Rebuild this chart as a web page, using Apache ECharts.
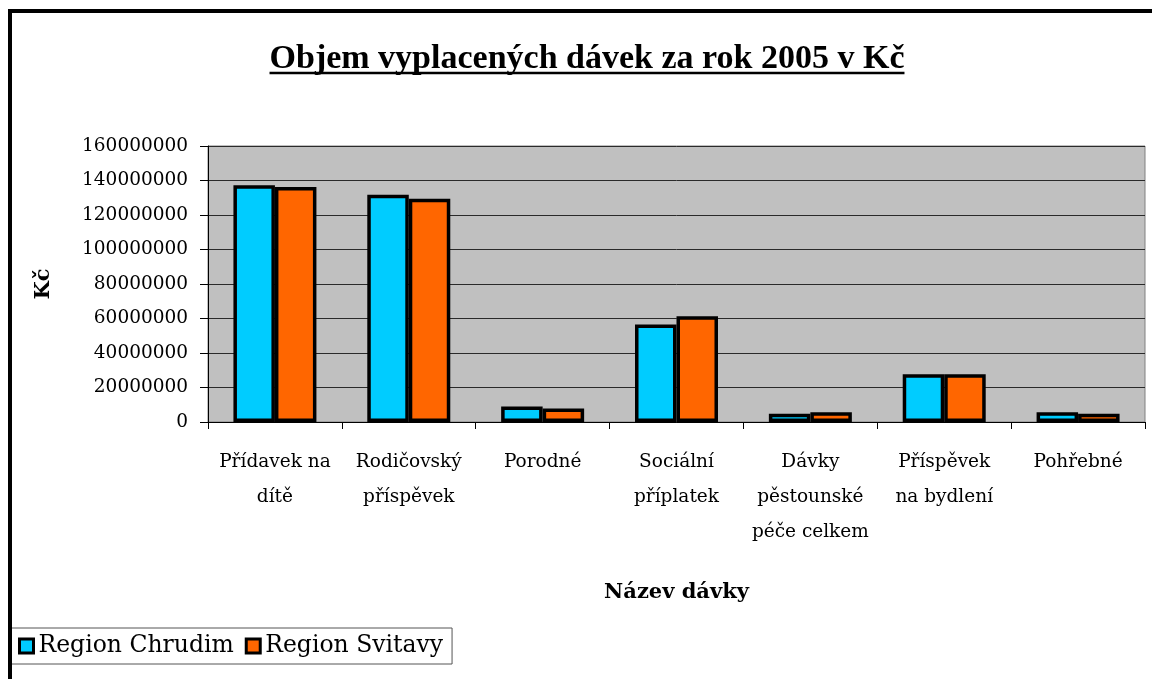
<!DOCTYPE html>
<html>
<head>
<meta charset="utf-8">
<script src="https://cdn.jsdelivr.net/npm/echarts@6/dist/echarts.min.js"></script>
<style>
html,body{margin:0;padding:0;background:#fff;}
#chart{width:1152px;height:679px;}
</style>
</head>
<body>
<div id="chart"></div>
<script>
const categories = [
  'Přídavek na\ndítě',
  'Rodičovský\npříspěvek',
  'Porodné',
  'Sociální\npříplatek',
  'Dávky\npěstounské\npéče celkem',
  'Příspěvek\nna bydlení',
  'Pohřebné'
];
const seriesNames = ['Region Chrudim', 'Region Svitavy'];
const chrudim = [137200000, 131700000, 9000000, 56500000, 4750000, 27700000, 5700000];
const svitavy = [136300000, 129400000, 7800000, 61300000, 5700000, 27700000, 4750000];
const yMin = 0, yMax = 160000000, yInterval = 20000000;
const titleText = 'Objem vyplacených dávek za rok 2005 v Kč';
const xName = 'Název dávky';
const yName = 'Kč';

const serif = '"DejaVu Serif", "Liberation Serif", serif';
const titleFont = '"Liberation Serif", serif';
const titleSize = 34;
const titleCx = 587, titleTop = 42;

// measure title width for underline
const cv = document.createElement('canvas').getContext('2d');
cv.font = 'bold ' + titleSize + 'px ' + titleFont;
const tw = cv.measureText(titleText).width;

const chart = echarts.init(document.getElementById('chart'), null, {renderer: 'canvas'});
chart.setOption({
  animation: false,
  backgroundColor: '#ffffff',
  title: {
    text: titleText,
    left: titleCx, top: titleTop,
    textAlign: 'center',
    padding: 0,
    textStyle: {fontFamily: titleFont, fontWeight: 'bold', fontSize: titleSize, color: '#000'}
  },
  graphic: [
    {type: 'rect', shape: {x: 10, y: 11, width: 1170, height: 700},
     style: {fill: 'none', stroke: '#000', lineWidth: 4}, silent: true, z: 100},
    {type: 'line', shape: {x1: titleCx - tw/2, y1: 73, x2: titleCx + tw/2, y2: 73},
     style: {stroke: '#000', lineWidth: 2.5}, silent: true, z: 100}
  ],
  legend: {
    data: seriesNames,
    left: 10, top: 628,
    orient: 'horizontal',
    backgroundColor: '#fff',
    borderColor: '#555', borderWidth: 1,
    padding: [6, 9, 6, 8],
    itemGap: 11,
    itemWidth: 14, itemHeight: 14,
    icon: 'rect',
    itemStyle: {borderColor: '#000', borderWidth: 3},
    textStyle: {fontFamily: serif, fontSize: 23.5, color: '#000'}
  },
  grid: {
    left: 208, right: 7, top: 146, bottom: 257,
    show: true, backgroundColor: '#C0C0C0', borderColor: '#808080', borderWidth: 1
  },
  xAxis: {
    type: 'category',
    data: categories,
    name: xName,
    nameLocation: 'middle',
    nameGap: 160,
    nameTextStyle: {fontFamily: serif, fontWeight: 'bold', fontSize: 21, color: '#000'},
    axisLine: {show: true, lineStyle: {color: '#000', width: 1}},
    axisTick: {show: true, length: 7, lineStyle: {color: '#000'}},
    axisLabel: {interval: 0, fontFamily: serif, fontSize: 18.5, lineHeight: 35, color: '#000', margin: 23},
    splitLine: {show: false}
  },
  yAxis: {
    type: 'value',
    min: yMin, max: yMax, interval: yInterval,
    name: yName,
    nameLocation: 'middle',
    nameGap: 154,
    nameRotate: 90,
    nameTextStyle: {fontFamily: serif, fontWeight: 'bold', fontSize: 21, color: '#000'},
    axisLine: {show: true, lineStyle: {color: '#000', width: 1}},
    axisTick: {show: true, length: 8, lineStyle: {color: '#000'}},
    axisLabel: {fontFamily: serif, fontSize: 18.5, color: '#000', margin: 20,
      formatter: v => String(v)},
    splitLine: {show: true, lineStyle: {color: '#2a2a2a', width: 1}}
  },
  series: [
    {name: seriesNames[0], type: 'bar', data: chrudim, barGap: '0%', barCategoryGap: '38%',
     itemStyle: {color: '#00CCFF', borderColor: '#000', borderWidth: 3.5}},
    {name: seriesNames[1], type: 'bar', data: svitavy, barGap: '0%', barCategoryGap: '38%',
     itemStyle: {color: '#FF6600', borderColor: '#000', borderWidth: 3.5}}
  ]
});
</script>
</body>
</html>
